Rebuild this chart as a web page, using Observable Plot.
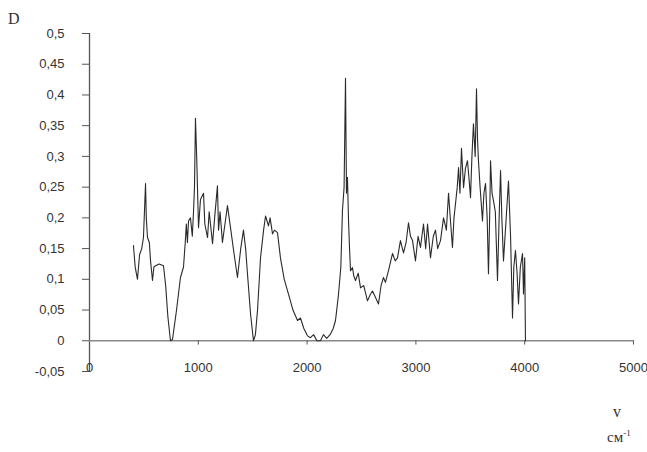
<!DOCTYPE html>
<html>
<head>
<meta charset="utf-8">
<script src="https://cdn.jsdelivr.net/npm/d3@7"></script>
<script src="https://cdn.jsdelivr.net/npm/@observablehq/plot@0.6"></script>
<style>
  body { margin: 0; background: #fff; }
  #wrap { position: relative; width: 647px; height: 452px; font-family: "Liberation Serif", serif; color: #333; }
  .lbl { position: absolute; font-family: "Liberation Serif", serif; color: #333; }
</style>
</head>
<body>
<div id="wrap">
  <div class="lbl" style="left:8px; top:10px; font-size:16px;">D</div>
  <div class="lbl" style="left:613px; top:403px; font-size:16px;">v</div>
  <div class="lbl" style="left:607px; top:428px; font-size:15px;">см<sup style="font-size:9px;">-1</sup></div>
</div>
<script>
// Wavenumber (cm^-1)
const wavenumber = [
  404,420,441,460,480,496,505,515,522,533,550,561,579,592,607,640,680,700,720,744,763,800,836,864,880,890,900,910,928,945,956,965,974,985,
  1002,1020,1048,1060,1085,1100,1131,1150,1176,1186,1200,1222,1245,1268,1296,1330,1360,1390,1415,1435,1452,1480,1507,1525,1544,1572,1600,
  1618,1645,1660,1682,1700,1728,1755,1790,1829,1870,1912,1939,1970,2004,2031,2060,2090,2123,2150,2180,2215,2240,2261,2289,2310,2325,2340,
  2353,2362,2371,2381,2390,2399,2417,2430,2445,2470,2491,2520,2555,2580,2601,2630,2656,2680,2702,2720,2748,2785,2810,2831,2858,2886,2910,
  2932,2950,2969,2996,3020,3042,3070,3090,3107,3134,3160,3180,3200,3226,3254,3280,3300,3320,3336,3350,3364,3380,3392,3405,3419,3438,3455,
  3474,3490,3502,3515,3529,3545,3557,3566,3575,3590,3612,3625,3640,3655,3667,3680,3686,3700,3713,3730,3750,3765,3778,3790,3805,3830,3851,
  3870,3888,3900,3915,3930,3943,3960,3980,3989,4000,4007
];
// Optical density D
const density = [
  0.155,0.12,0.100,0.14,0.15,0.168,0.21,0.256,0.2,0.168,0.16,0.13,0.098,0.12,0.122,0.125,0.122,0.09,0.04,0.0,0.002,0.05,0.103,0.12,0.16,0.19,0.16,0.195,0.2,0.17,0.21,0.25,0.362,0.3,
  0.184,0.23,0.24,0.19,0.168,0.21,0.158,0.2,0.252,0.18,0.21,0.16,0.19,0.22,0.184,0.14,0.103,0.15,0.18,0.15,0.109,0.044,0.0,0.01,0.049,0.135,0.18,
  0.203,0.187,0.2,0.174,0.18,0.176,0.135,0.1,0.076,0.05,0.033,0.037,0.02,0.008,0.005,0.01,0.0,0.0,0.01,0.004,0.011,0.02,0.033,0.076,0.12,0.212,0.25,
  0.427,0.24,0.266,0.195,0.15,0.114,0.119,0.105,0.098,0.11,0.086,0.09,0.065,0.075,0.081,0.07,0.06,0.09,0.103,0.095,0.114,0.142,0.13,0.135,0.163,0.143,0.16,
  0.192,0.17,0.163,0.13,0.17,0.152,0.19,0.15,0.19,0.135,0.17,0.18,0.15,0.163,0.2,0.18,0.24,0.19,0.152,0.2,0.223,0.25,0.282,0.24,0.313,0.249,0.28,
  0.293,0.26,0.233,0.3,0.353,0.3,0.41,0.33,0.293,0.25,0.195,0.24,0.256,0.2,0.109,0.22,0.293,0.24,0.228,0.21,0.098,0.2,0.277,0.2,0.13,0.2,0.26,
  0.17,0.037,0.12,0.147,0.11,0.06,0.12,0.142,0.076,0.135,0.0
];
const xTicks = [0, 1000, 2000, 3000, 4000, 5000];
const xTickLabels = ["0", "1000", "2000", "3000", "4000", "5000"];
const yTickLabels = ["-0,05", "0", "0,05", "0,1", "0,15", "0,2", "0,25", "0,3", "0,35", "0,4", "0,45", "0,5"];
const yTicks = yTickLabels.map(s => +s.replace(",", "."));

const data = wavenumber.map((w, i) => ({w, d: density[i]}));
const yLabelOf = v => yTickLabels[yTicks.findIndex(t => Math.abs(t - v) < 1e-9)];
const xLabelOf = v => xTickLabels[xTicks.indexOf(v)];

const chart = Plot.plot({
  width: 647,
  height: 452,
  marginLeft: 89,
  marginRight: 14,
  marginTop: 33,
  marginBottom: 81,
  style: {fontFamily: "'Liberation Sans', Arial, sans-serif", background: "transparent", color: "#333"},
  x: {domain: [0, 5000], axis: null, label: null},
  y: {domain: [-0.05, 0.5], axis: null, label: null},
  marks: [
    Plot.axisY(yTicks, {label: null, tickSize: 7, tickPadding: 18, tickFormat: yLabelOf, fontSize: 13, stroke: "#555", fill: "#333"}),
    Plot.ruleX([0], {stroke: "#555", strokeWidth: 1.3}),
    Plot.ruleY([0], {stroke: "#888", strokeWidth: 1.6}),
    Plot.ruleX(xTicks.slice(1), {y1: 0, y2: -0.007, stroke: "#555"}),
    Plot.text(xTicks, {x: d => d, y: -0.05, text: xLabelOf, dy: -4, fontSize: 13, fill: "#333"}),
    Plot.line(data, {x: "w", y: "d", stroke: "#2a2a2a", strokeWidth: 1.1})
  ]
});
document.getElementById("wrap").prepend(chart);
</script>
</body>
</html>
